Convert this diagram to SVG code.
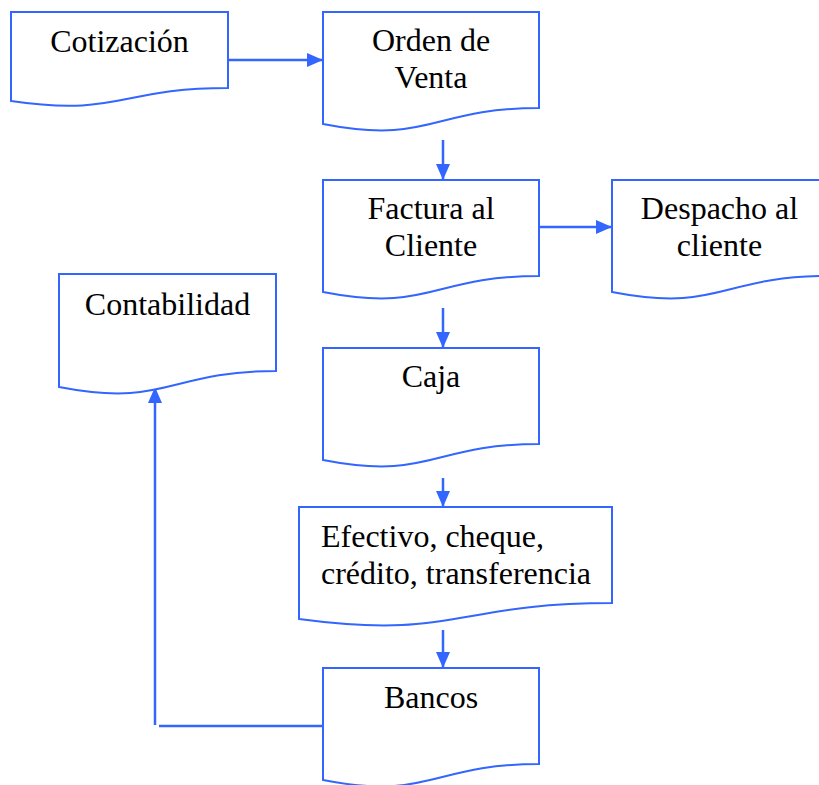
<svg xmlns="http://www.w3.org/2000/svg" width="819" height="785" viewBox="0 0 819 785">
<defs>
<style>
.doc{fill:#fff;stroke:#3366FF;stroke-width:2}
.t{font-family:'Liberation Serif','Times New Roman',serif;font-size:32px;fill:#000}
.c{text-anchor:middle}
.ln{fill:none;stroke:#3366FF;stroke-width:2.5}
</style>
<marker id="ah" markerUnits="userSpaceOnUse" markerWidth="18" markerHeight="16" refX="16" refY="7" orient="auto">
<path d="M0,0 L16,7 L0,14 Z" fill="#3366FF"/>
</marker>
</defs>
<rect width="819" height="785" fill="#fff"/>
<g id="connectors">
<line class="ln" x1="228" y1="60" x2="323" y2="60" marker-end="url(#ah)"/>
<line class="ln" x1="443" y1="140" x2="443" y2="180" marker-end="url(#ah)"/>
<line class="ln" x1="539" y1="227" x2="612" y2="227" marker-end="url(#ah)"/>
<line class="ln" x1="443" y1="308" x2="443" y2="348" marker-end="url(#ah)"/>
<line class="ln" x1="443" y1="478" x2="443" y2="507" marker-end="url(#ah)"/>
<line class="ln" x1="443" y1="630" x2="443" y2="668" marker-end="url(#ah)"/>
<line class="ln" x1="327" y1="726" x2="159" y2="726"/>
<line class="ln" x1="155" y1="725" x2="155" y2="387" marker-end="url(#ah)"/>
</g>
<g id="cotizacion">
<path class="doc" d="M11,12 H228 V88 C119.5,88 119.5,117 11,101 Z"/>
<text class="t c" x="119.5" y="52">Cotización</text>
</g>
<g id="orden">
<path class="doc" d="M323,12 H539 V108 C431,108 431,145 323,124 Z"/>
<text class="t c" x="431" y="51">Orden de</text>
<text class="t c" x="431" y="88">Venta</text>
</g>
<g id="factura">
<path class="doc" d="M323,180 H539 V276 C431,276 431,313 323,292 Z"/>
<text class="t c" x="431" y="219">Factura al</text>
<text class="t c" x="431" y="256">Cliente</text>
</g>
<g id="despacho">
<path class="doc" d="M612,180 H828 V276 C720,276 720,313 612,292 Z"/>
<text class="t c" x="719.5" y="219">Despacho al</text>
<text class="t c" x="719.5" y="256">cliente</text>
</g>
<g id="contabilidad">
<path class="doc" d="M59,274 H276 V371 C167.5,371 167.5,408 59,387 Z"/>
<text class="t c" x="167.5" y="315">Contabilidad</text>
</g>
<g id="caja">
<path class="doc" d="M323,348 H539 V444 C431,444 431,481 323,460 Z"/>
<text class="t c" x="431" y="387">Caja</text>
</g>
<g id="efectivo">
<path class="doc" d="M299,507 H612 V603 C455.5,603 455.5,640 299,619 Z"/>
<text class="t" x="321" y="547">Efectivo, cheque,</text>
<text class="t" x="321" y="584">crédito, transferencia</text>
</g>
<g id="bancos">
<path class="doc" d="M323,668 H539 V764 C431,764 431,801 323,780 Z"/>
<text class="t c" x="431" y="708">Bancos</text>
</g>
</svg>
